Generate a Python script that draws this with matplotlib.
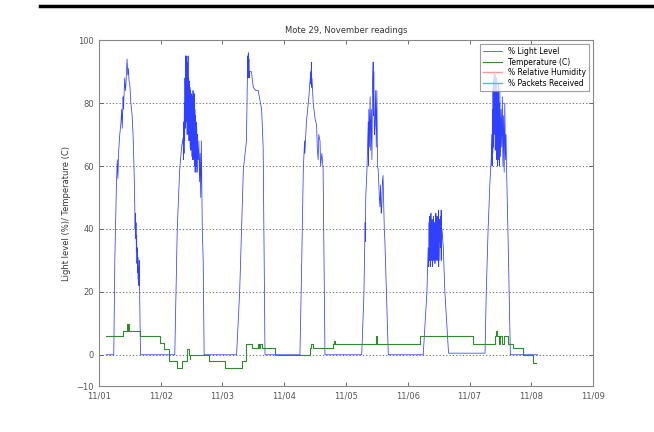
import matplotlib.pyplot as plt

# time in days since 11/01 00:00
light_t = [0.12, 0.243, 0.26, 0.287, 0.30, 0.31, 0.32, 0.34, 0.36, 0.37, 0.38, 0.394,
           0.40, 0.42, 0.43, 0.44, 0.458, 0.47, 0.48, 0.49, 0.502, 0.52, 0.54, 0.555,
           0.57, 0.583, 0.588, 0.593, 0.598, 0.603, 0.608, 0.613, 0.618, 0.623, 0.628,
           0.633, 0.638, 0.643, 0.648, 0.655, 0.675,
           1.23, 1.27, 1.31, 1.34, 1.365, 1.37, 1.375, 1.38, 1.385, 1.39, 1.395, 1.40,
           1.405, 1.41, 1.415, 1.42, 1.425, 1.43, 1.435, 1.44, 1.445, 1.45, 1.455,
           1.46, 1.465, 1.47, 1.475, 1.48, 1.485, 1.49, 1.495, 1.50, 1.505, 1.51,
           1.515, 1.52, 1.525, 1.53, 1.535, 1.54, 1.545, 1.55, 1.555, 1.56, 1.565,
           1.57, 1.575, 1.58, 1.585, 1.59, 1.595, 1.60, 1.61, 1.62, 1.63, 1.64, 1.65,
           1.66, 1.675, 1.69, 1.705,
           2.23, 2.28, 2.34, 2.39, 2.405, 2.41, 2.415, 2.42, 2.425, 2.43, 2.435, 2.44,
           2.47, 2.50, 2.54, 2.58, 2.635, 2.66, 2.69,
           3.255, 3.28, 3.31, 3.33, 3.335, 3.36, 3.40, 3.43, 3.435, 3.44, 3.445, 3.45,
           3.47, 3.50, 3.525, 3.535, 3.55, 3.56, 3.58, 3.59, 3.61, 3.63, 3.66,
           4.255, 4.29, 4.31, 4.315, 4.32, 4.34, 4.36, 4.365, 4.37, 4.38, 4.39, 4.40,
           4.41, 4.42, 4.43, 4.44, 4.445, 4.45, 4.46, 4.47, 4.48, 4.49, 4.50, 4.51,
           4.52, 4.53, 4.54, 4.55, 4.56, 4.57, 4.58, 4.59, 4.60, 4.61, 4.62, 4.63,
           4.685,
           5.25, 5.31, 5.33, 5.34, 5.345, 5.35, 5.355, 5.36, 5.365, 5.37, 5.375, 5.38,
           5.385, 5.39, 5.395, 5.40, 5.405, 5.41, 5.415, 5.42, 5.425, 5.43, 5.435,
           5.44, 5.445, 5.45, 5.455, 5.46, 5.465, 5.47, 5.475, 5.48, 5.485, 5.49,
           5.495, 5.50, 5.505, 5.51, 5.515, 5.52, 5.525, 5.53, 5.535, 5.54, 5.545,
           5.55, 5.56, 5.575, 5.60, 5.66, 6.25,
           6.27, 6.30, 6.33, 6.35, 6.36, 6.365, 6.37, 6.375, 6.38, 6.385, 6.39, 6.395,
           6.40, 6.405, 6.41, 6.415, 6.42, 6.425, 6.43, 6.435, 6.44, 6.445, 6.45,
           6.455, 6.46, 6.465, 6.47, 6.475, 6.48, 6.485, 6.49, 6.50, 6.51, 6.52, 6.53,
           6.54, 6.55, 6.56, 6.57, 6.58, 6.59, 6.60, 6.62, 6.64, 6.66, 6.69, 7.1]
light_v = [0, 0, 30, 55, 62, 56, 64, 70, 74, 78, 72, 82,
           78, 88, 84, 86, 94, 89, 91, 87, 86, 80, 76, 70,
           60, 47, 40, 45, 37, 42, 33, 38, 29, 34, 26, 31,
           24, 28, 22, 30, 0,
           0, 40, 59, 66, 69, 62, 74, 64, 80, 68, 88, 72, 95,
           78, 95, 74, 93, 70, 92, 72, 95, 70, 88,
           68, 87, 70, 85, 66, 84, 65, 83, 66, 80, 63,
           82, 62, 84, 64, 80, 62, 83, 60, 78, 58, 76,
           62, 74, 60, 72, 58, 70, 66, 62, 68, 55, 64, 50,
           68, 40, 30, 0,
           0, 20, 59, 68, 90, 95, 88, 96, 89, 94, 88, 90,
           90, 85, 84, 84, 78, 66, 0,
           0, 25, 59, 68, 64, 74, 82, 90, 86, 93, 85, 88,
           80, 75, 73, 66, 62, 70, 68, 60, 64, 59, 0,
           0, 19, 42, 36, 50, 59, 74, 60, 78, 66, 82, 65,
           78, 62, 86, 93, 76, 90, 70, 73, 84, 66, 84, 60,
           59, 55, 50, 47, 54, 45, 47, 55, 57, 48, 40, 36,
           0,
           0, 20, 34, 28, 42, 30, 44, 32, 40, 28, 45, 30,
           38, 34, 43, 28, 40, 35, 44, 30, 38, 33, 42,
           29, 40, 34, 45, 30, 38, 32, 44, 30, 37, 35,
           46, 28, 40, 36, 43, 30, 38, 44, 34, 46, 30,
           40, 38, 34, 20, 0.5, 0.5,
           20, 40, 55, 62, 70, 60, 78, 64, 85, 66, 88, 70, 90,
           72, 86, 65, 89, 70, 84, 62, 88, 68, 82, 60,
           84, 64, 86, 62, 80, 60, 85, 63, 78, 66, 82,
           60, 76, 58, 80, 62, 70, 58, 40, 20, 0, 0, 0]

temp_t = [0.12, 0.40, 0.46, 0.47, 0.48, 0.49, 0.66, 0.985, 1.05, 1.13, 1.26, 1.34,
          1.42, 1.435, 1.455, 1.47, 1.48, 1.50, 1.78, 2.05, 2.32, 2.39, 2.48, 2.57,
          2.59, 2.61, 2.64, 2.85, 3.42, 3.44, 3.46, 3.79, 3.81, 3.83, 4.49, 4.50,
          5.19, 6.05, 6.41, 6.43, 6.45, 6.47, 6.50, 6.52, 6.55, 6.62, 6.71, 6.86,
          7.02, 7.03, 7.07]
temp_v = [5.9, 7.7, 9.8, 7.7, 9.8, 7.7, 5.9, 3.8, 1.7, -2.1, -4.2, -2.1,
          0, 1.7, 0, -1.5, 0, 0, -2.1, -4.2, -2.1, 3.4, 2.1, 3.4,
          2.1, 3.4, 2.1, 0, 2.1, 3.4, 2.1, 3.4, 4.5, 3.4, 5.9, 3.4,
          5.9, 3.4, 5.9, 7.7, 5.9, 3.4, 5.9, 3.4, 5.9, 3.4, 2.1, 0,
          -1.5, -2.6, -2.6]

humidity_t, humidity_v = [], []
packets_t, packets_v = [], []

tick_days = list(range(9))
tick_labels = ['11/01', '11/02', '11/03', '11/04', '11/05', '11/06', '11/07', '11/08', '11/09']
y_ticks = [-10, 0, 20, 40, 60, 80, 100]

plt.rcParams['font.family'] = 'DejaVu Sans'
fig = plt.figure(figsize=(6.54, 4.32), dpi=100)
ax = fig.add_axes([0.151, 0.106, 0.756, 0.801])

ax.plot(light_t, light_v, color='#3040ff', lw=0.55, label='% Light Level')
ax.step(temp_t, temp_v, where='post', color='#2e8b2e', lw=0.8, label='Temperature (C)')
ax.plot(humidity_t, humidity_v, color='#ff9999', lw=1.0, label='% Relative Humidity')
ax.plot(packets_t, packets_v, color='#33cccc', lw=1.0, label='% Packets Received')

ax.set_xlim(0, 8)
ax.set_ylim(-10, 100)
ax.set_xticks(tick_days)
ax.set_xticklabels(tick_labels)
ax.set_yticks(y_ticks)
for y in [0, 20, 40, 60, 80]:
    ax.axhline(y, color='#555555', lw=0.6, linestyle=(0, (1.5, 2.5)), zorder=0)

ax.tick_params(direction='in', top=True, right=True, labelsize=6, colors='#555555',
               length=3, width=0.6)
for s in ax.spines.values():
    s.set_color('#888888')
    s.set_linewidth(0.8)

ax.set_title('Mote 29, November readings', fontsize=6, color='#333333', pad=5)
ax.set_ylabel('Light level (%)/ Temperature (C)', fontsize=6, color='#333333')

leg = ax.legend(loc='upper right', fontsize=5.5, frameon=True, fancybox=False,
                borderpad=0.4, handlelength=2.5, labelspacing=0.2,
                bbox_to_anchor=(1.0, 1.0))
leg.get_frame().set_edgecolor('#888888')
leg.get_frame().set_linewidth(0.8)

# page rule across the top
fig.add_artist(plt.Line2D([0.061, 1.0], [0.986, 0.986], color='black', lw=2.5))

fig.savefig('out.png', dpi=100)
